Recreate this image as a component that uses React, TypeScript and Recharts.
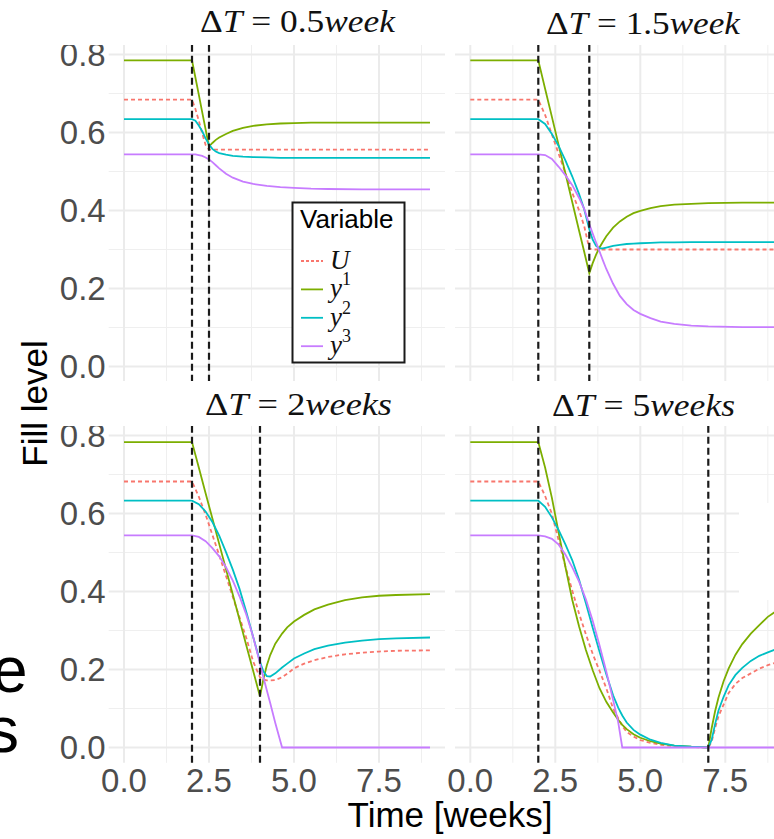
import { CartesianGrid, Line, LineChart, ReferenceLine, XAxis, YAxis } from "recharts"

// time [weeks] and fill levels, one set per panel
const T_05 = [0, 2, 2.1, 2.2, 2.3, 2.4, 2.5, 2.6, 2.7, 2.8, 3.0, 3.2, 3.5, 3.8, 4.2, 4.6, 5.0, 5.5, 6.0, 7.0, 8.0, 9.0]
const U_05 = [0.684, 0.684, 0.66, 0.63, 0.598, 0.568, 0.556, 0.556, 0.556, 0.556, 0.556, 0.556, 0.556, 0.556, 0.556, 0.556, 0.556, 0.556, 0.556, 0.556, 0.556, 0.556]
const Y1_05 = [0.785, 0.785, 0.741, 0.697, 0.652, 0.608, 0.564, 0.573, 0.581, 0.587, 0.596, 0.604, 0.612, 0.617, 0.621, 0.623, 0.624, 0.625, 0.625, 0.625, 0.625, 0.625]
const Y2_05 = [0.634, 0.634, 0.63, 0.618, 0.603, 0.585, 0.569, 0.558, 0.551, 0.547, 0.543, 0.54, 0.538, 0.537, 0.536, 0.535, 0.535, 0.535, 0.535, 0.535, 0.535, 0.535]
const Y3_05 = [0.544, 0.544, 0.544, 0.542, 0.54, 0.536, 0.531, 0.524, 0.516, 0.508, 0.494, 0.484, 0.474, 0.468, 0.463, 0.46, 0.458, 0.456, 0.455, 0.454, 0.454, 0.454]

const T_15 = [0, 2, 2.2, 2.4, 2.6, 2.8, 3.0, 3.2, 3.35, 3.5, 3.6, 3.7, 3.8, 3.9, 4.0, 4.2, 4.4, 4.6, 4.8, 5.0, 5.3, 5.6, 6.0, 6.5, 7.0, 8.0, 9.0]
const U_15 = [0.684, 0.684, 0.645, 0.595, 0.545, 0.495, 0.445, 0.4, 0.36, 0.302, 0.3, 0.3, 0.3, 0.3, 0.3, 0.3, 0.3, 0.3, 0.3, 0.3, 0.3, 0.3, 0.3, 0.3, 0.3, 0.3, 0.3]
const Y1_15 = [0.785, 0.785, 0.712, 0.64, 0.567, 0.494, 0.421, 0.348, 0.294, 0.239, 0.265, 0.287, 0.305, 0.32, 0.334, 0.356, 0.372, 0.384, 0.393, 0.399, 0.406, 0.411, 0.415, 0.417, 0.419, 0.42, 0.42]
const Y2_15 = [0.634, 0.634, 0.622, 0.596, 0.565, 0.528, 0.487, 0.442, 0.403, 0.352, 0.325, 0.309, 0.303, 0.303, 0.305, 0.309, 0.312, 0.314, 0.315, 0.316, 0.317, 0.318, 0.318, 0.319, 0.319, 0.319, 0.319]
const Y3_15 = [0.544, 0.544, 0.542, 0.532, 0.512, 0.49, 0.465, 0.432, 0.404, 0.365, 0.341, 0.318, 0.295, 0.272, 0.25, 0.212, 0.181, 0.16, 0.145, 0.135, 0.124, 0.115, 0.109, 0.105, 0.103, 0.101, 0.101]

const T_2 = [0, 2, 2.2, 2.4, 2.6, 2.8, 3.0, 3.2, 3.4, 3.6, 3.8, 4.0, 4.1, 4.2, 4.3, 4.45, 4.65, 4.8, 5.0, 5.3, 5.6, 6.0, 6.5, 7.0, 7.5, 8.0, 9.0]
const U_2 = [0.682, 0.682, 0.643, 0.597, 0.545, 0.493, 0.44, 0.386, 0.333, 0.28, 0.22, 0.18, 0.174, 0.172, 0.172, 0.173, 0.18, 0.189, 0.203, 0.215, 0.224, 0.232, 0.239, 0.243, 0.246, 0.248, 0.249]
const Y1_2 = [0.783, 0.783, 0.718, 0.652, 0.587, 0.522, 0.457, 0.392, 0.327, 0.261, 0.196, 0.131, 0.175, 0.21, 0.237, 0.266, 0.292, 0.308, 0.323, 0.34, 0.354, 0.366, 0.378, 0.385, 0.389, 0.391, 0.393]
const Y2_2 = [0.633, 0.633, 0.624, 0.605, 0.578, 0.543, 0.501, 0.456, 0.406, 0.347, 0.283, 0.22, 0.195, 0.183, 0.182, 0.19, 0.205, 0.215, 0.228, 0.241, 0.252, 0.261, 0.269, 0.274, 0.278, 0.28, 0.282]
const Y3_2 = [0.544, 0.544, 0.54, 0.529, 0.511, 0.49, 0.462, 0.428, 0.387, 0.34, 0.283, 0.215, 0.18, 0.147, 0.114, 0.063, 0, 0, 0, 0, 0, 0, 0, 0, 0, 0, 0]

const T_5 = [0, 2, 2.2, 2.4, 2.6, 2.8, 3.0, 3.2, 3.4, 3.6, 3.8, 4.0, 4.2, 4.35, 4.47, 4.6, 4.8, 5.0, 5.3, 5.6, 6.0, 6.5, 7.0, 7.1, 7.2, 7.3, 7.45, 7.6, 7.8, 8.0, 8.25, 8.5, 8.75, 9.0]
const U_5 = [0.682, 0.682, 0.645, 0.599, 0.53, 0.463, 0.402, 0.343, 0.29, 0.24, 0.197, 0.152, 0.1, 0.075, 0.055, 0.04, 0.028, 0.019, 0.012, 0.007, 0.003, 0.001, 0, 0.015, 0.05, 0.08, 0.11, 0.14, 0.163, 0.178, 0.19, 0.202, 0.211, 0.218]
const Y1_5 = [0.783, 0.783, 0.718, 0.64, 0.55, 0.462, 0.378, 0.31, 0.25, 0.198, 0.152, 0.117, 0.09, 0.071, 0.058, 0.047, 0.034, 0.025, 0.016, 0.01, 0.005, 0.002, 0, 0.05, 0.093, 0.128, 0.17, 0.203, 0.238, 0.265, 0.292, 0.314, 0.335, 0.35]
const Y2_5 = [0.633, 0.633, 0.617, 0.59, 0.557, 0.52, 0.48, 0.43, 0.37, 0.307, 0.246, 0.188, 0.134, 0.102, 0.082, 0.064, 0.045, 0.033, 0.02, 0.012, 0.005, 0.002, 0, 0.02, 0.06, 0.095, 0.13, 0.16, 0.186, 0.204, 0.222, 0.235, 0.244, 0.252]
const Y3_5 = [0.544, 0.544, 0.541, 0.535, 0.52, 0.494, 0.462, 0.425, 0.38, 0.325, 0.262, 0.195, 0.122, 0.065, 0, 0, 0, 0, 0, 0, 0, 0, 0, 0, 0, 0, 0, 0, 0, 0, 0, 0, 0, 0]

const X_MAJOR = [0, 2.5, 5, 7.5]
const X_MINOR = [1.25, 3.75, 6.25, 8.75]
const Y_MAJOR = [0, 0.2, 0.4, 0.6, 0.8]
const Y_MINOR = [0.1, 0.3, 0.5, 0.7]
const START = 2

const SERIES = [
  { key: "U", name: "U", sup: "", color: "#F8766D", dash: "4 3" },
  { key: "y1", name: "y", sup: "1", color: "#7CAE00", dash: undefined },
  { key: "y2", name: "y", sup: "2", color: "#00BFC4", dash: undefined },
  { key: "y3", name: "y", sup: "3", color: "#C77CFF", dash: undefined },
]

const SANS = "'Liberation Sans', Arial, Helvetica, sans-serif"
const SERIF = "'Liberation Serif', 'Times New Roman', serif"

const X_DOMAIN = [-0.45, 9.45]
const Y_DOMAIN = [-0.03925, 0.82425]
const PLOT_W = 336.6
const PLOT_H = 336.8
const Y_AXIS_W = 108.7
const X_AXIS_H = 50
const PAD_L = 30 // room for the first x label of the right column

const PANELS = [
  { dt: 0.5, unit: "week", t: T_05, u: U_05, y1: Y1_05, y2: Y2_05, y3: Y3_05, left: 108.7, top: 44.5, showX: false, showY: true, title: { x: 200, y: 32, w: 195 } },
  { dt: 1.5, unit: "week", t: T_15, u: U_15, y1: Y1_15, y2: Y2_15, y3: Y3_15, left: 454.7, top: 44.5, showX: false, showY: false, title: { x: 546, y: 34, w: 194 } },
  { dt: 2, unit: "weeks", t: T_2, u: U_2, y1: Y1_2, y2: Y2_2, y3: Y3_2, left: 108.7, top: 425.5, showX: true, showY: true, title: { x: 205, y: 415, w: 187 } },
  { dt: 5, unit: "weeks", t: T_5, u: U_5, y1: Y1_5, y2: Y2_5, y3: Y3_5, left: 454.7, top: 425.5, showX: true, showY: false, title: { x: 552, y: 416, w: 183 } },
]

const tickStyle = { fontSize: 33, fill: "#4D4D4D", fontFamily: SANS }

function Panel({ p }: { p: (typeof PANELS)[number] }) {
  const data = p.t.map((t, i) => ({ t, U: p.u[i], y1: p.y1[i], y2: p.y2[i], y3: p.y3[i] }))
  const yw = p.showY ? Y_AXIS_W : 0
  const padL = p.showY ? 0 : PAD_L
  const xh = p.showX ? X_AXIS_H : 0
  return (
    <div style={{ position: "absolute", left: p.left - yw - padL, top: p.top }}>
      <LineChart width={PLOT_W + yw + padL} height={PLOT_H + xh} data={data} margin={{ top: 0, right: 0, bottom: 0, left: padL }}>
        <CartesianGrid stroke="#EFEFEF" strokeWidth={1} horizontalValues={Y_MINOR} verticalValues={X_MINOR} />
        <CartesianGrid stroke="#EBEBEB" strokeWidth={2} horizontalValues={Y_MAJOR} verticalValues={X_MAJOR} />
        <XAxis
          dataKey="t"
          type="number"
          domain={X_DOMAIN}
          allowDataOverflow
          ticks={X_MAJOR}
          interval={0}
          hide={!p.showX}
          height={xh}
          axisLine={false}
          tickLine={false}
          tickSize={0}
          tickMargin={6}
          tick={tickStyle}
          tickFormatter={(v: number) => v.toFixed(1)}
        />
        <YAxis
          type="number"
          domain={Y_DOMAIN}
          allowDataOverflow
          ticks={Y_MAJOR}
          interval={0}
          hide={!p.showY}
          width={yw}
          axisLine={false}
          tickLine={false}
          tickSize={0}
          tickMargin={3}
          tick={tickStyle}
          tickFormatter={(v: number) => v.toFixed(1)}
        />
        {SERIES.map((s) => (
          <Line
            key={s.key}
            dataKey={s.key}
            type="linear"
            stroke={s.color}
            strokeWidth={1.8}
            strokeDasharray={s.dash}
            dot={false}
            activeDot={false}
            isAnimationActive={false}
          />
        ))}
        {[START, START + p.dt].map((x) => (
          <ReferenceLine key={x} x={x} stroke="#1a1a1a" strokeWidth={2.2} strokeDasharray="7 4" />
        ))}
      </LineChart>
    </div>
  )
}

export default function App() {
  return (
    <div style={{ position: "absolute", left: 0, top: 0, width: 774, height: 839, overflow: "hidden", background: "#fff" }}>
      {PANELS.map((p) => (
        <Panel key={p.dt} p={p} />
      ))}
      <svg width={774} height={839} style={{ position: "absolute", left: 0, top: 0, pointerEvents: "none" }}>
        <rect x={739} y={503} width={40} height={97} fill="#fff" />
        {PANELS.map((p) => (
          <text
            key={p.dt}
            x={p.title.x}
            y={p.title.y}
            fontFamily={SERIF}
            fontSize={31}
            fill="#111"
            textLength={p.title.w}
            lengthAdjust="spacingAndGlyphs"
          >
            <tspan>Δ</tspan>
            <tspan fontStyle="italic">T</tspan>
            <tspan> = {p.dt}</tspan>
            <tspan fontStyle="italic">{p.unit}</tspan>
          </text>
        ))}
        <text x={450} y={827} textAnchor="middle" fontFamily={SANS} fontSize={35} fill="#000">
          Time [weeks]
        </text>
        <text x={46.5} y={403.5} textAnchor="middle" fontFamily={SANS} fontSize={35} fill="#000" transform="rotate(-90 46.5 403.5)">
          Fill level
        </text>
        <text x={27.5} y={692} textAnchor="end" fontFamily={SANS} fontSize={64} fill="#000">
          e
        </text>
        <text x={19} y={752} textAnchor="end" fontFamily={SANS} fontSize={64} fill="#000">
          s
        </text>
        <g>
          <rect x={292.5} y={202.5} width={112} height={160} fill="#fff" stroke="#1a1a1a" strokeWidth={2} />
          <text x={300} y={228} fontFamily={SANS} fontSize={26} fill="#000">
            Variable
          </text>
          {SERIES.map((s, i) => {
            const cy = 261 + i * 28.4
            return (
              <g key={s.key}>
                <line x1={301} x2={323} y1={cy} y2={cy} stroke={s.color} strokeWidth={1.8} strokeDasharray={s.dash ? "3 2" : undefined} />
                <text x={330} y={cy + 8} fontFamily={SERIF} fontSize={27} fill="#111">
                  <tspan fontStyle="italic">{s.name}</tspan>
                  {s.sup ? (
                    <tspan dy={-12} fontSize={18}>
                      {s.sup}
                    </tspan>
                  ) : null}
                </text>
              </g>
            )
          })}
        </g>
      </svg>
    </div>
  )
}
